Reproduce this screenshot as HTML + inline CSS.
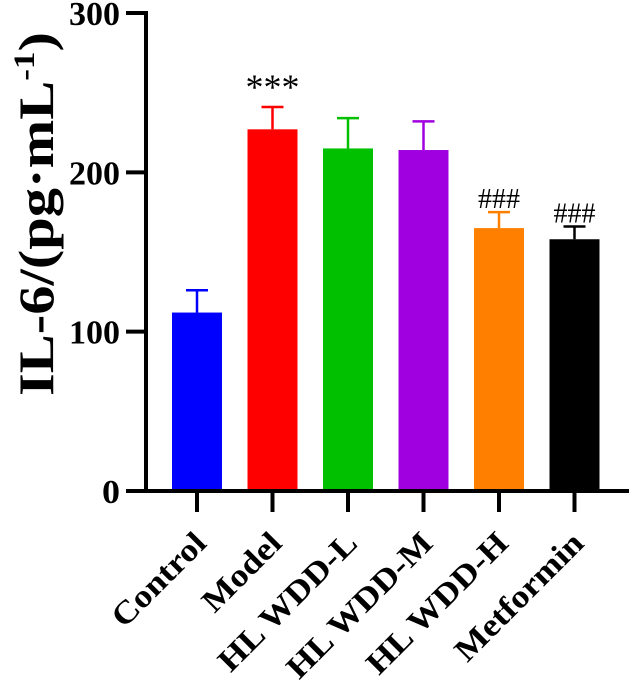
<!DOCTYPE html>
<html><head><meta charset="utf-8"><style>
body{margin:0;background:#fff}
svg text{font-family:"Liberation Serif",serif;font-weight:bold}
</style></head><body>
<svg width="629" height="680" viewBox="0 0 629 680">
<g id="marks"></g>
<text font-size="50" text-anchor="middle" transform="translate(53,214) rotate(-90) scale(1.17,1)">IL-6/(pg·mL<tspan font-size="30" dy="-19">-1</tspan><tspan dy="19">)</tspan></text>
<script>
const categories=["Control","Model","HLWDD-L","HLWDD-M","HLWDD-H","Metformin"];
const values=[112,227,215,214,165,158];
const errors=[14,14,19,18,10,8];
const colors=["#0000ff","#ff0000","#00c000","#a000e0","#ff8000","#000000"];
const annotations=["","***","","","###","###"];
const yTicks=[0,100,200,300];
const ns="http://www.w3.org/2000/svg";
const y0=491,y300=13,axisX=146;
function yS(v){return y0-(v/300)*(y0-y300);}
function xC(i){return 197+i*75.5;}
const g=document.getElementById('marks');
function mk(t,a,p){const e=document.createElementNS(ns,t);for(const k in a)e.setAttribute(k,a[k]);(p||g).appendChild(e);return e;}
categories.forEach((c,i)=>{
 const cx=xC(i),w=50,top=yS(values[i]),et=yS(values[i]+errors[i]);
 const eb=mk('line',{x1:cx,x2:cx,y1:top,y2:et,stroke:colors[i],'stroke-width':2.5});
 
 
 const cap=mk('line',{x1:cx-11,x2:cx+11,y1:et,y2:et,stroke:colors[i],'stroke-width':2.5});
 
 
 const r=mk('rect',{x:cx-w/2,y:top,width:w,height:y0-top,fill:colors[i]});
 
 
 const tk=mk('line',{x1:cx,x2:cx,y1:y0,y2:512,stroke:'#000','stroke-width':4});
 
 
 const lb=mk('text',{x:0,y:0,'font-size':32,'text-anchor':'end',transform:`translate(${cx+11},${545}) rotate(-45) scale(1.12,1)`});
 lb.textContent=c.replace('HLWDD','HL WDD');
 
 
 if(annotations[i]){
  const isStar=annotations[i]==="***";
  const an=mk('text',{x:cx,y:isStar?et-8:et-4,'font-size':isStar?36:28,'text-anchor':'middle'});
  an.style.fontWeight='normal';
  an.textContent=annotations[i];
  
  
 }
});
yTicks.forEach(v=>{
 const y=yS(v);
 const t=mk('line',{x1:126,x2:axisX,y1:y,y2:y,stroke:'#000','stroke-width':4});
 
 
 const l=mk('text',{x:120,y:y+12,'font-size':34,'text-anchor':'end',textLength:v===0?18:51,lengthAdjust:'spacingAndGlyphs'});
 l.textContent=v;
 
 
});
const ya=mk('line',{x1:axisX,x2:axisX,y1:y300-2,y2:y0+2,stroke:'#000','stroke-width':4});


const xa=mk('line',{x1:axisX-2,x2:629,y1:y0,y2:y0,stroke:'#000','stroke-width':4});


</script>
</svg>
</body></html>
